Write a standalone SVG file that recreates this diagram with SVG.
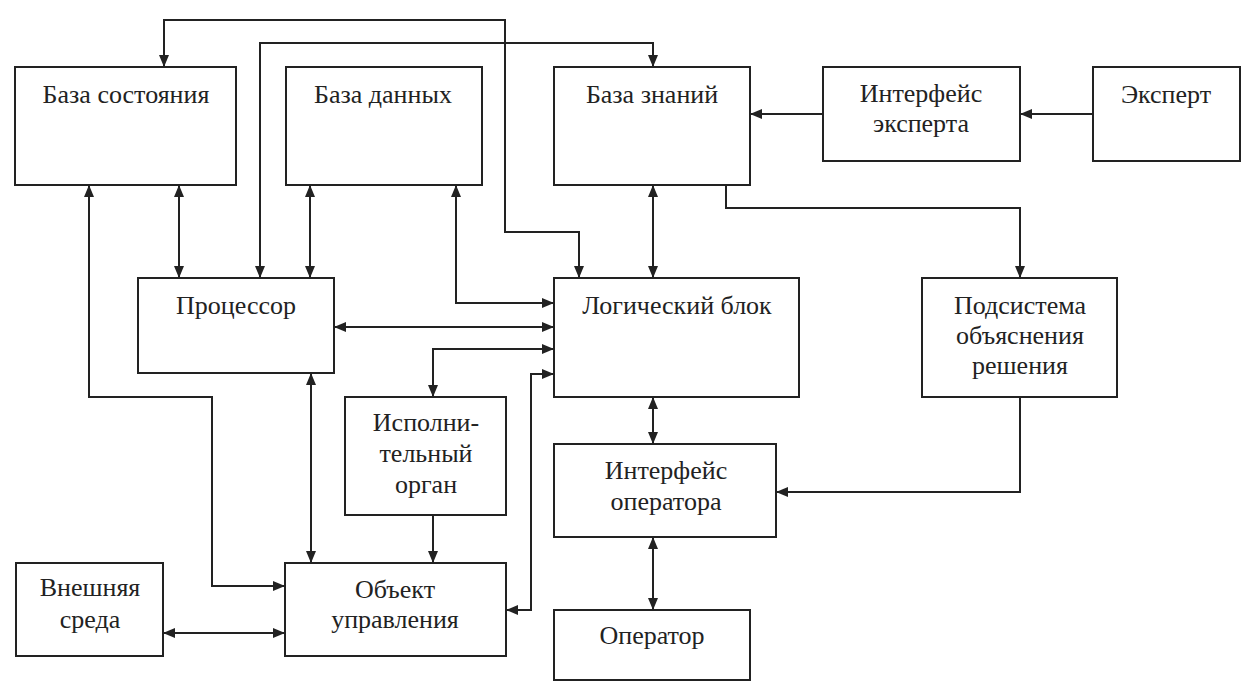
<svg xmlns="http://www.w3.org/2000/svg" width="1246" height="683" viewBox="0 0 1246 683">
<style>
.box{fill:#fff;stroke:#222;stroke-width:2}
.t{font-family:'Liberation Serif','Times New Roman','DejaVu Serif',serif;font-size:26px;fill:#222;text-anchor:middle}
.c{fill:none;stroke:#222;stroke-width:2}
.a{marker-end:url(#ah)}
.b{marker-start:url(#ah);marker-end:url(#ah)}
</style>
<defs>
<marker id="ah" markerUnits="userSpaceOnUse" markerWidth="13" markerHeight="11" refX="12" refY="5" orient="auto-start-reverse">
<path d="M0,0 L12,5 L0,10 z" fill="#222"/>
</marker>
</defs>
<rect width="1246" height="683" fill="#fff"/>
<g id="connectors">
<path class="c b" d="M164,67 V20 H505 V232 H579 V278"/>
<path class="c b" d="M260,278 V43 H653 V67"/>
<path class="c b" d="M179,185 V278"/>
<path class="c b" d="M310,185 V278"/>
<path class="c b" d="M653,185 V278"/>
<path class="c b" d="M89,185 V397 H212 V586 H285"/>
<path class="c b" d="M456,185 V303 H554"/>
<path class="c b" d="M334,327 H554"/>
<path class="c b" d="M433,397 V349 H554"/>
<path class="c a" d="M433,515 V563"/>
<path class="c b" d="M506,610 H531 V374 H554"/>
<path class="c b" d="M311,373 V563"/>
<path class="c b" d="M163,633 H285"/>
<path class="c b" d="M653,397 V444"/>
<path class="c b" d="M653,537 V610"/>
<path class="c a" d="M726,185 V208 H1020 V278"/>
<path class="c a" d="M823,114 H750"/>
<path class="c a" d="M1093,114 H1020"/>
<path class="c a" d="M1020,397 V492 H776"/>
</g>
<g id="baza-sostoyaniya"><rect class="box" x="15" y="67" width="221" height="118"/><text class="t" x="126" y="103">База состояния</text></g>
<g id="baza-dannyh"><rect class="box" x="286" y="67" width="196" height="118"/><text class="t" x="383" y="103">База данных</text></g>
<g id="baza-znaniy"><rect class="box" x="554" y="67" width="196" height="118"/><text class="t" x="652" y="103">База знаний</text></g>
<g id="interfeys-eksperta"><rect class="box" x="823" y="67" width="197" height="94"/><text class="t" x="921" y="102">Интерфейс</text><text class="t" x="921" y="132">эксперта</text></g>
<g id="ekspert"><rect class="box" x="1093" y="67" width="147" height="94"/><text class="t" x="1166" y="103">Эксперт</text></g>
<g id="processor"><rect class="box" x="138" y="278" width="196" height="95"/><text class="t" x="236" y="314">Процессор</text></g>
<g id="logicheskiy-blok"><rect class="box" x="554" y="278" width="245" height="119"/><text class="t" x="677" y="314">Логический блок</text></g>
<g id="podsistema"><rect class="box" x="922" y="278" width="195" height="119"/><text class="t" x="1020" y="314">Подсистема</text><text class="t" x="1020" y="344">объяснения</text><text class="t" x="1020" y="374">решения</text></g>
<g id="ispolnitelnyy-organ"><rect class="box" x="345" y="397" width="161" height="118"/><text class="t" x="426" y="431">Исполни-</text><text class="t" x="426" y="462">тельный</text><text class="t" x="426" y="493">орган</text></g>
<g id="interfeys-operatora"><rect class="box" x="554" y="444" width="222" height="93"/><text class="t" x="666" y="479">Интерфейс</text><text class="t" x="666" y="510">оператора</text></g>
<g id="vneshnyaya-sreda"><rect class="box" x="16" y="563" width="147" height="93"/><text class="t" x="90" y="596">Внешняя</text><text class="t" x="90" y="628">среда</text></g>
<g id="obekt-upravleniya"><rect class="box" x="285" y="563" width="221" height="93"/><text class="t" x="395" y="598">Объект</text><text class="t" x="395" y="628">управления</text></g>
<g id="operator"><rect class="box" x="554" y="610" width="196" height="70"/><text class="t" x="652" y="644">Оператор</text></g>
</svg>
